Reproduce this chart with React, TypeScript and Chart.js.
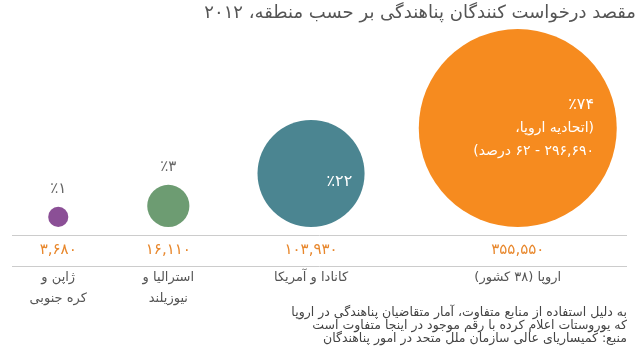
import React, { useEffect, useRef } from "react";
import { Chart, registerables } from "chart.js";

Chart.register(...registerables);

// ---- data ----
const regions = [
  ["ژاپن و", "کره جنوبی"],
  ["استرالیا و", "نیوزیلند"],
  ["کانادا و آمریکا"],
  ["اروپا (۳۸ کشور)"],
];
const applicants = [3680, 16110, 103930, 355550];
const shareLabels = [["٪۱"], ["٪۳"], ["٪۲۲"], ["٪۷۴", "(اتحادیه اروپا،", "۲۹۶,۶۹۰ - ۶۲ درصد)"]];
const labelInside = [false, false, true, true];
const columnPos = [9.1, 26.3, 48.6, 80.9];
const bubbleColors = ["#8b4f96", "#6d9c72", "#4b8591", "#f68b1f"];

const titleText = "مقصد درخواست کنندگان پناهندگی بر حسب منطقه، ۲۰۱۲";
const noteLines = [
  "به دلیل استفاده از منابع متفاوت، آمار متقاضیان پناهندگی در اروپا",
  "که یوروستات اعلام کرده با رقم موجود در اینجا متفاوت است",
  "منبع: کمیساریای عالی سازمان ملل متحد در امور پناهندگان",
];

const FONT = "'DejaVu Sans', sans-serif";
const W = 640;
const H = 353;
const maxR = 99;

const toFa = (s: string) => s.replace(/[0-9]/g, (d) => "۰۱۲۳۴۵۶۷۸۹"[+d]);
const fmt = (v: number) => toFa(v.toString().replace(/\B(?=(\d{3})+(?!\d))/g, ","));

const radii = applicants.map((v) => maxR * Math.sqrt(v / Math.max(...applicants)));

const decor = {
  id: "decor",
  afterDatasetsDraw(chart: any) {
    const ctx = chart.ctx as CanvasRenderingContext2D;
    const xs = chart.scales.x;
    const ys = chart.scales.y;
    ctx.save();
    ctx.direction = "rtl";
    ctx.textBaseline = "middle";

    // title
    ctx.fillStyle = "#555555";
    ctx.font = `18px ${FONT}`;
    ctx.textAlign = "right";
    ctx.fillText(titleText, 636, 13);

    // rules
    ctx.strokeStyle = "#cccccc";
    ctx.lineWidth = 1;
    [235.5, 266.5].forEach((y) => {
      ctx.beginPath();
      ctx.moveTo(12, y);
      ctx.lineTo(627, y);
      ctx.stroke();
    });

    applicants.forEach((v, i) => {
      const cx = xs.getPixelForValue(columnPos[i]);
      const cy = ys.getPixelForValue(radii[i]);
      const r = radii[i];
      // value
      ctx.fillStyle = "#e8872c";
      ctx.font = `15px ${FONT}`;
      ctx.textAlign = "center";
      ctx.fillText(fmt(v), cx, 250);
      // region label
      ctx.fillStyle = "#555555";
      ctx.font = `13px ${FONT}`;
      regions[i].forEach((line, j) => ctx.fillText(line, cx, 278 + j * 21));
      // share label
      const lines = shareLabels[i];
      if (labelInside[i]) {
        ctx.fillStyle = "#ffffff";
        ctx.textAlign = "right";
        const rx = cx + r * 0.77;
        const step = 23.5;
        const start = lines.length === 1 ? cy + 8 : cy - ((lines.length - 1) * step) / 2;
        lines.forEach((line, j) => {
          ctx.font = `${j === 0 ? 16 : 14}px ${FONT}`;
          ctx.fillText(line, rx, start + j * step);
        });
      } else {
        ctx.fillStyle = "#666666";
        ctx.textAlign = "center";
        ctx.font = `15px ${FONT}`;
        ctx.fillText(lines[0], cx, cy - r - 18);
      }
    });

    // footnote
    ctx.fillStyle = "#444444";
    ctx.textAlign = "right";
    ctx.font = `12.5px ${FONT}`;
    noteLines.forEach((line, j) => ctx.fillText(line, 627, 313 + j * 13));
    ctx.restore();
  },
};

export default function App() {
  const ref = useRef<HTMLCanvasElement>(null);
  useEffect(() => {
    if (!ref.current) return;
    const chart = new Chart(ref.current, {
      type: "bubble",
      data: {
        datasets: [
          {
            data: applicants.map((v, i) => ({ x: columnPos[i], y: radii[i], r: radii[i] })),
            backgroundColor: bubbleColors,
            borderWidth: 0,
            hoverRadius: 0,
            hoverBorderWidth: 0,
            clip: false,
          } as any,
        ],
      },
      options: {
        responsive: false,
        animation: false,
        events: [],
        layout: { autoPadding: false, padding: { left: 0, right: 0, top: 27, bottom: 126 } },
        scales: {
          x: { type: "linear", min: 0, max: 100, display: false },
          y: { type: "linear", min: 0, max: 200, display: false },
        },
        plugins: { legend: { display: false }, tooltip: { enabled: false }, title: { display: false } },
      } as any,
      plugins: [decor],
    });
    return () => chart.destroy();
  }, []);
  return (
    <div style={{ position: "absolute", left: 0, top: 0, width: W, height: H, background: "#fff" }}>
      <canvas ref={ref} width={W} height={H} style={{ display: "block" }} />
    </div>
  );
}
